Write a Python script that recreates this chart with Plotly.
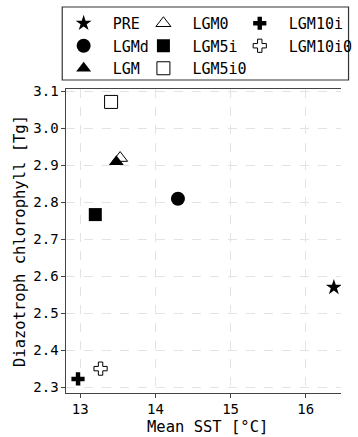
import plotly.graph_objects as go

# Experiment summary: mean SST vs. diazotroph chlorophyll
runs = ["PRE", "LGMd", "LGM", "LGM0", "LGM5i", "LGM5i0", "LGM10i", "LGM10i0"]
mean_sst = [16.375, 14.30, 13.48, 13.53, 13.20, 13.41, 12.97, 13.27]
diaz_chl = [2.57, 2.81, 2.91, 2.92, 2.767, 3.072, 2.322, 2.35]

symbols = {
    "PRE": "star", "LGMd": "circle", "LGM": "triangle-up", "LGM0": "triangle-up",
    "LGM5i": "square", "LGM5i0": "square", "LGM10i": "cross", "LGM10i0": "cross",
}
filled = {"PRE": True, "LGMd": True, "LGM": True, "LGM0": False,
          "LGM5i": True, "LGM5i0": False, "LGM10i": True, "LGM10i0": False}
sizes = {"PRE": 12, "LGMd": 14, "LGM": 13, "LGM0": 13,
         "LGM5i": 13, "LGM5i0": 13, "LGM10i": 11, "LGM10i0": 11}

# three legend columns, filled top to bottom
legend_cols = {"PRE": "legend", "LGMd": "legend", "LGM": "legend",
               "LGM0": "legend2", "LGM5i": "legend2", "LGM5i0": "legend2",
               "LGM10i": "legend3", "LGM10i0": "legend3"}
legend_rank = {n: i for i, n in enumerate(runs)}
# draw order: open triangle sits underneath the filled one
draw_order = ["PRE", "LGMd", "LGM0", "LGM", "LGM5i", "LGM5i0", "LGM10i", "LGM10i0"]

FONT = "DejaVu Sans Mono"
W, H = 358, 437
ML, MR, MT, MB = 66, 0, 89, 44
PW, PH = W - ML - MR, H - MT - MB


def px_x(px):
    return (px - ML) / PW


def px_y(py):
    return 1 + (MT - py) / PH


fig = go.Figure()
for name in draw_order:
    i = runs.index(name)
    fig.add_trace(go.Scatter(
        x=[mean_sst[i]], y=[diaz_chl[i]], mode="markers",
        name="\u00a0" + name,  # extra gap between legend symbol and label
        legend=legend_cols[name], legendrank=legend_rank[name],
        marker=dict(symbol=symbols[name], size=sizes[name],
                    color="black" if filled[name] else "white",
                    line=dict(color="black", width=0 if filled[name] else 1)),
    ))

axis_common = dict(
    showline=True, linecolor="#444", linewidth=1.2,
    ticks="outside", ticklen=3.5, tickcolor="#444",
    showgrid=True, gridcolor="#e3e3e3", griddash="dash", gridwidth=1,
    zeroline=False, tickfont=dict(family=FONT, size=14, color="black"),
    title_font=dict(family=FONT, size=15.5, color="black"),
)

legend_common = dict(
    orientation="v", xanchor="left", yanchor="top", y=px_y(7),
    bgcolor="rgba(0,0,0,0)", borderwidth=0,
    font=dict(family=FONT, size=15, color="black"), traceorder="normal",
)

fig.update_layout(
    width=W, height=H,
    margin=dict(l=ML, r=MR, t=MT, b=MB),
    paper_bgcolor="white", plot_bgcolor="white",
    font=dict(family=FONT, size=15, color="black"),
    showlegend=True,
    legend=dict(x=px_x(63.5), **legend_common),
    legend2=dict(x=px_x(148.2), **legend_common),
    legend3=dict(x=px_x(250.5), **legend_common),
    shapes=[dict(type="rect", xref="paper", yref="paper",
                 x0=px_x(62), x1=px_x(366), y0=px_y(80), y1=px_y(7),
                 line=dict(color="#333", width=1.2), fillcolor="rgba(0,0,0,0)",
                 layer="below")],
    annotations=[dict(text="Mean SST [°C]", xref="paper", yref="paper",
                      x=px_x(216), y=px_y(437), xanchor="center", yanchor="bottom",
                      showarrow=False, borderpad=0,
                      font=dict(family=FONT, size=15.5, color="black"))],
    xaxis=dict(range=[12.81, 16.47], tickvals=[13, 14, 15, 16],
               mirror=True, **axis_common),
    yaxis=dict(range=[2.284, 3.107], tickvals=[2.3, 2.4, 2.5, 2.6, 2.7, 2.8, 2.9, 3.0, 3.1],
               tickformat=".1f",
               title=dict(text="Diazotroph chlorophyll [Tg]", standoff=3), **axis_common),
)

fig.write_html("out.html")
